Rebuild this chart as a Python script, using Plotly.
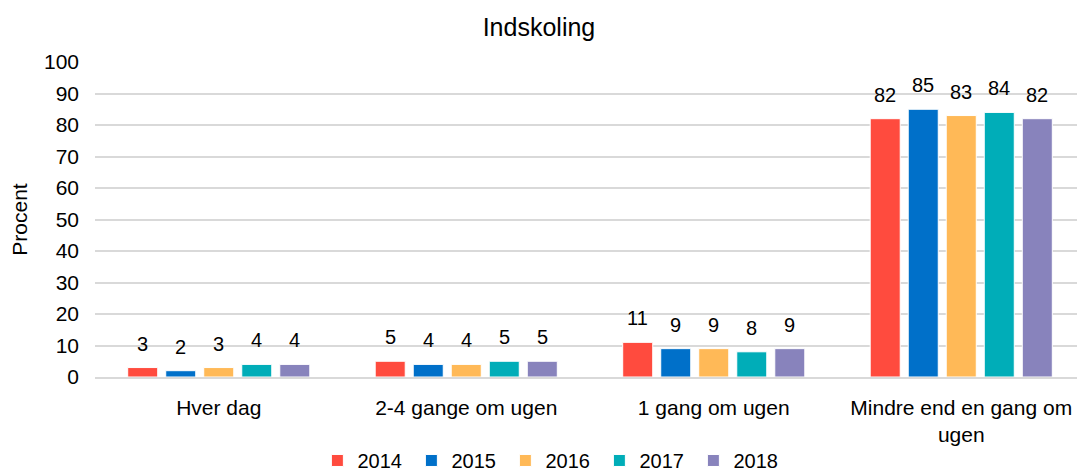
import plotly.graph_objects as go

categories = ["Hver dag", "2-4 gange om ugen", "1 gang om ugen", "Mindre end en gang om<br>ugen"]
years = ["2014", "2015", "2016", "2017", "2018"]
v2014 = [3, 5, 11, 82]
v2015 = [2, 4, 9, 85]
v2016 = [3, 4, 9, 83]
v2017 = [4, 5, 8, 84]
v2018 = [4, 5, 9, 82]
series = [v2014, v2015, v2016, v2017, v2018]
colors = ["#FF4B3E", "#0070C9", "#FFB957", "#00ADB8", "#8883BC"]

W, H = 1077, 465          # page body has an 8px margin
ML, MR, MT, MB = 87, 0, 54, 96
BARGAP, GROUPGAP = 0.232, 0.21

fig = go.Figure()
for name, vals, col in zip(years, series, colors):
    fig.add_trace(go.Bar(
        x=categories, y=vals, name=name,
        marker=dict(color=col, line=dict(color="white", width=1)),
    ))

# value labels placed above each bar (offset within the group from the bar layout)
plot_w = W - ML - MR
slot = plot_w / len(categories) * (1 - BARGAP) / len(years)
n = len(years)
for i, vals in enumerate(series):
    for c, v in zip(categories, vals):
        fig.add_annotation(x=c, y=v, text=str(v), showarrow=False,
                           xshift=(i - (n - 1) / 2) * slot, yshift=24,
                           yanchor="middle", xanchor="center",
                           font=dict(size=20, color="#000000"))

fig.update_layout(
    width=W, height=H,
    paper_bgcolor="white", plot_bgcolor="white",
    font=dict(family="Liberation Sans, Arial, sans-serif", size=21, color="#000000"),
    title=dict(text="Indskoling", x=0.493, xanchor="center", y=1 - 19 / H, yref="container",
               yanchor="middle", font=dict(size=25)),
    margin=dict(l=ML, r=MR, t=MT, b=MB, autoexpand=False),
    barmode="group", bargap=BARGAP, bargroupgap=GROUPGAP,
    legend=dict(orientation="h", x=0.462, xanchor="center", y=-0.265, yanchor="middle",
                font=dict(size=20), entrywidth=49, entrywidthmode="pixels",
                traceorder="normal"),
    showlegend=True,
)
fig.update_yaxes(range=[0, 100], dtick=10, showgrid=True, gridcolor="#D9D9D9", gridwidth=1.5,
                 zeroline=False, ticklabelstandoff=15, tickfont=dict(size=21), automargin=False,
                 title=dict(text="Procent", font=dict(size=21), standoff=10))
fig.update_xaxes(showline=True, linecolor="#D9D9D9", linewidth=1.5, tickfont=dict(size=21),
                 ticks="", ticklabelstandoff=11, automargin=False)

fig.write_html("out.html")
